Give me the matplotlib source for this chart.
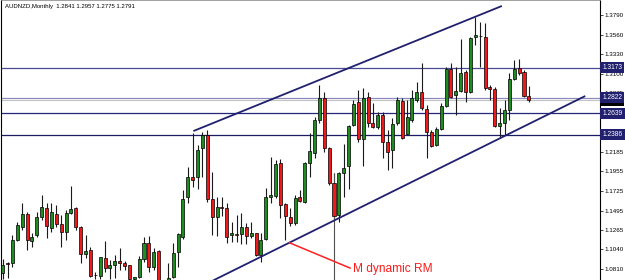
import numpy as np
import matplotlib
matplotlib.use("Agg")
import matplotlib.pyplot as plt

# AUDNZD monthly candles
opens = [1.0764, 1.0881, 1.0881, 1.1151, 1.1303, 1.1456, 1.1139, 1.1209, 1.1421, 1.1526,
         1.1291, 1.1456, 1.1338, 1.1245, 1.1468, 1.1526, 1.1303, 1.0987, 1.1034, 1.0740,
         1.0729, 1.0940, 1.0823, 1.0857, 1.0904, 1.0881, 1.0857, 1.0693, 1.0717, 1.0928,
         1.1116, 1.0834, 1.1022, 1.0612, 1.0682, 1.0717, 1.1010, 1.1186, 1.1655, 1.1890,
         1.1890, 1.2230, 1.2383, 1.1632, 1.1421, 1.1538, 1.1526, 1.1209, 1.1221, 1.1221,
         1.1303, 1.1198, 1.1233, 1.0975, 1.1163, 1.1655, 1.1667, 1.2054, 1.1573, 1.1421,
         1.1350, 1.1655, 1.1597, 1.2054, 1.2172, 1.2558, 1.2816, 1.2230, 1.1819, 1.1444,
         1.1937, 1.2019, 1.2500, 1.2770, 1.2336, 1.2828, 1.2523, 1.2476, 1.2617, 1.2300,
         1.2207, 1.2523, 1.2781, 1.2394, 1.2558, 1.2793, 1.2887, 1.2688, 1.2418, 1.2265,
         1.2453, 1.2723, 1.3157, 1.2852, 1.2899, 1.3121, 1.2887, 1.3532, 1.3544, 1.3532,
         1.2946, 1.2922, 1.2488, 1.2523, 1.2676, 1.3039, 1.3168, 1.3121, 1.2841]
highs = [1.0928, 1.0893, 1.1209, 1.1362, 1.1585, 1.1480, 1.1233, 1.1480, 1.1678, 1.1585,
         1.1585, 1.1561, 1.1444, 1.1503, 1.1784, 1.1538, 1.1315, 1.1209, 1.1069, 1.0776,
         1.0952, 1.1139, 1.0916, 1.0975, 1.1057, 1.0904, 1.0857, 1.0717, 1.0963, 1.1186,
         1.1198, 1.1057, 1.1034, 1.0670, 1.0881, 1.1116, 1.1233, 1.1737, 1.2007, 1.2406,
         1.2265, 1.2418, 1.2441, 1.1949, 1.1655, 1.1655, 1.1585, 1.1362, 1.1444, 1.1468,
         1.1350, 1.1362, 1.1233, 1.1233, 1.1761, 1.2124, 1.2089, 1.2101, 1.1585, 1.1526,
         1.1678, 1.1737, 1.2066, 1.2406, 1.2593, 1.2969, 1.2887, 1.2242, 1.1937, 1.1949,
         1.2277, 1.2500, 1.2793, 1.2910, 1.2934, 1.2887, 1.2758, 1.2652, 1.2652, 1.2441,
         1.2582, 1.2828, 1.2816, 1.2793, 1.2910, 1.3004, 1.3227, 1.2734, 1.2441, 1.2476,
         1.2758, 1.3180, 1.3227, 1.3180, 1.3509, 1.3145, 1.3532, 1.3767, 1.3708, 1.3696,
         1.2969, 1.2946, 1.2699, 1.2793, 1.3110, 1.3262, 1.3274, 1.3145, 1.2957]
lows = [1.0693, 1.0705, 1.0834, 1.1139, 1.1268, 1.1034, 1.1069, 1.1186, 1.1385, 1.1174,
        1.1245, 1.1303, 1.1069, 1.1151, 1.1456, 1.1268, 1.0881, 1.0940, 1.0717, 1.0693,
        1.0693, 1.0776, 1.0693, 1.0705, 1.0799, 1.0799, 1.0682, 1.0682, 1.0705, 1.0893,
        1.0776, 1.0799, 1.0541, 1.0518, 1.0670, 1.0705, 1.0834, 1.1163, 1.1585, 1.1772,
        1.1749, 1.1890, 1.1597, 1.1209, 1.1198, 1.1433, 1.1116, 1.1128, 1.1128, 1.1104,
        1.1104, 1.1174, 1.0963, 1.0893, 1.1151, 1.1585, 1.1643, 1.1409, 1.1151, 1.1315,
        1.1327, 1.1597, 1.1585, 1.1890, 1.2113, 1.2523, 1.2183, 1.1796, 1.1409, 1.1362,
        1.1655, 1.1749, 1.2488, 1.2300, 1.2019, 1.2476, 1.2465, 1.2453, 1.2113, 1.1972,
        1.1996, 1.2500, 1.2336, 1.2383, 1.2535, 1.2770, 1.2676, 1.2113, 1.2242, 1.2254,
        1.2441, 1.2711, 1.2816, 1.2617, 1.2887, 1.2770, 1.2875, 1.3438, 1.3180, 1.2910,
        1.2793, 1.2476, 1.2359, 1.2383, 1.2558, 1.3028, 1.3086, 1.2828, 1.2775]
closes = [1.0857, 1.0875, 1.1151, 1.1327, 1.1456, 1.1151, 1.1186, 1.1421, 1.1538, 1.1315,
          1.1480, 1.1338, 1.1245, 1.1468, 1.1514, 1.1303, 1.0987, 1.1022, 1.0729, 1.0735,
          1.0952, 1.0823, 1.0857, 1.0904, 1.0881, 1.0846, 1.0693, 1.0717, 1.0928, 1.1116,
          1.0834, 1.1010, 1.0635, 1.0647, 1.0705, 1.0999, 1.1221, 1.1632, 1.1890, 1.1855,
          1.2207, 1.2383, 1.1632, 1.1421, 1.1538, 1.1532, 1.1186, 1.1233, 1.1215, 1.1303,
          1.1198, 1.1233, 1.0975, 1.1151, 1.1655, 1.1678, 1.2042, 1.1561, 1.1433, 1.1350,
          1.1643, 1.1608, 1.2054, 1.2195, 1.2558, 1.2816, 1.2230, 1.1819, 1.1433, 1.1937,
          1.1996, 1.2488, 1.2746, 1.2336, 1.2816, 1.2523, 1.2476, 1.2617, 1.2300, 1.2183,
          1.2511, 1.2793, 1.2347, 1.2593, 1.2816, 1.2887, 1.2699, 1.2418, 1.2254, 1.2453,
          1.2723, 1.3157, 1.2828, 1.2899, 1.3110, 1.2887, 1.3520, 1.3556, 1.3538, 1.2934,
          1.2922, 1.2488, 1.2523, 1.2676, 1.3039, 1.3157, 1.3110, 1.2840, 1.2791]

# horizontal levels and their labels
levels = [1.3173, 1.2822, 1.2639, 1.2386]
level_colors = ['#4a4a96', '#8a8abd', '#26267a', '#1c1c66']
bid = 1.2791

tick_vals = [1.3790, 1.3560, 1.3330, 1.3100, 1.2875, 1.2645, 1.2415, 1.2185,
             1.1955, 1.1725, 1.1495, 1.1265, 1.1040, 1.0810]

# channel lines (bar index, price)
upper_x = [39.14, 102.46]
upper_y = [1.2429, 1.3896]
lower_x = [43.18, 119.57]
lower_y = [1.0676, 1.2840]
red_x = [58.85, 71.3]
red_y = [1.1119, 1.0822]
vline_idx = 68
vline_top = 1.1937

title = "AUDNZD,Monthly  1.2841 1.2957 1.2775 1.2791"

navy = '#20206e'
green = '#1e8c1e'
red = '#f01818'

fig = plt.figure(figsize=(6.25, 2.8), dpi=100)
ax = fig.add_axes([1 / 625, 0, 599 / 625, 1])
ax.set_xlim(-0.35, 122.6)
ax.set_ylim(1.0682, 1.3966)

x = np.arange(len(opens))
o = np.array(opens)
c = np.array(closes)
h = np.array(highs)
l = np.array(lows)

# levels
for lv, col in zip(levels, level_colors):
    ax.axhline(lv, color=col, lw=0.9, zorder=1)
ax.axhline(bid, color='#c4c4c4', lw=0.8, zorder=1)

# candles
ax.vlines(x, l, h, color='#1a1a1a', lw=0.8, zorder=2)
cols = np.where(c >= o, green, red)
body = np.maximum(np.abs(c - o), 0.0004)
ax.bar(x, body, bottom=np.minimum(o, c), width=0.62, color=cols,
       edgecolor='black', linewidth=0.5, zorder=3)

# vertical line through the bar
ax.vlines(vline_idx, 1.0, vline_top, color='#505050', lw=0.8, zorder=2)

# channel
ax.plot(upper_x, upper_y, color=navy, lw=1.3, zorder=4, solid_capstyle='butt')
ax.plot(lower_x, lower_y, color=navy, lw=1.3, zorder=4, solid_capstyle='butt')
ax.plot(red_x, red_y, color='#ff2020', lw=1.1, zorder=4)
ax.text(71.9, 1.0816, "M dynamic RM", color='#ff1a1a', fontsize=8.6,
        family='Liberation Sans', va='center', ha='left', zorder=5)

ax.text(0.006, 0.985, title, transform=ax.transAxes, fontsize=4.3,
        family='Liberation Sans', va='top', ha='left')

# right axis
ax.yaxis.tick_right()
ax.set_yticks(tick_vals)
ax.set_yticklabels([f"{v:.4f}" for v in tick_vals])
ax.tick_params(axis='y', direction='out', length=1.8, width=0.5, pad=1.5,
               labelsize=4.5, colors='black')
for lab in ax.get_yticklabels():
    lab.set_family('Liberation Sans')
ax.set_xticks([])

for s in ['left', 'right']:
    ax.spines[s].set_color('black')
    ax.spines[s].set_linewidth(0.8)
ax.spines['top'].set_color('#909090')
ax.spines['top'].set_linewidth(0.6)
ax.spines['bottom'].set_visible(False)

trans = ax.get_yaxis_transform()
ax.text(1.004, bid - 0.0004, f"{bid:.4f}", transform=trans, fontsize=4.8,
        family='Liberation Sans', color='white', va='center', ha='left',
        bbox=dict(boxstyle='square,pad=0.3', fc='black', ec='none'),
        clip_on=False, zorder=6)
for lv in levels:
    ax.text(1.004, lv, f"{lv:.4f}", transform=trans, fontsize=4.8,
            family='Liberation Sans', color='white', va='center', ha='left',
            bbox=dict(boxstyle='square,pad=0.3', fc=navy, ec='none'),
            clip_on=False, zorder=7)

fig.savefig("out.png", dpi=100, facecolor='white')
